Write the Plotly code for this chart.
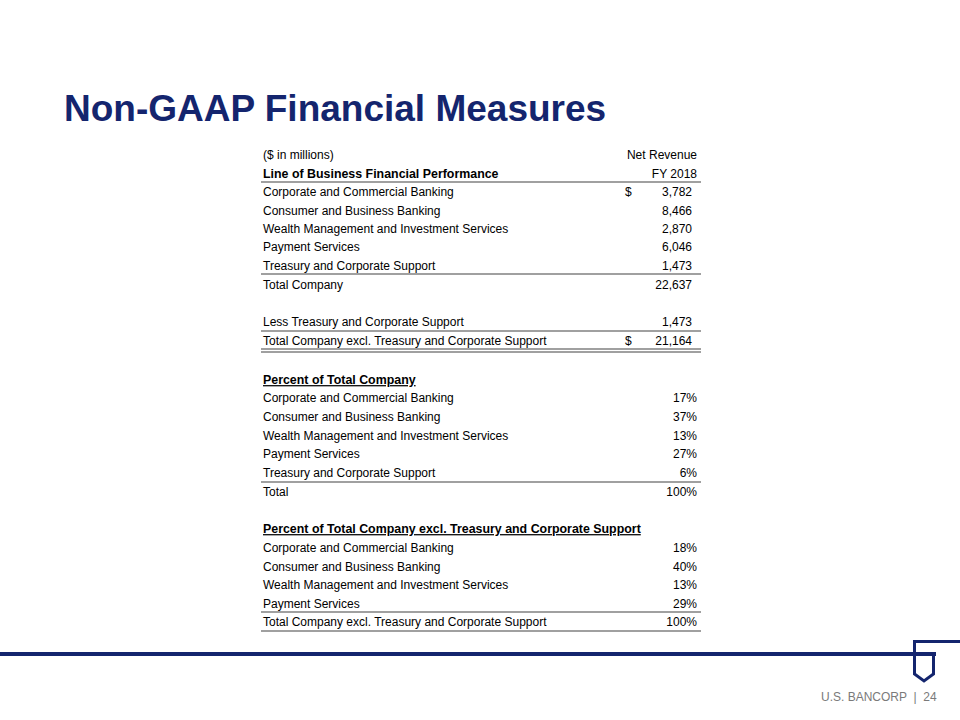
import plotly.graph_objects as go

# ---------------------------------------------------------------- data
lob_names = ["Corporate and Commercial Banking", "Consumer and Business Banking",
             "Wealth Management and Investment Services", "Payment Services",
             "Treasury and Corporate Support"]
net_revenue = [3782, 8466, 2870, 6046, 1473]
total_company = 22637
less_treasury = 1473
total_excl_treasury = 21164

pct_of_total = [17, 37, 13, 27, 6]
pct_of_total_sum = 100
pct_excl_names = lob_names[:4]
pct_excl_treasury = [18, 40, 13, 29]
pct_excl_sum = 100

NAVY = "#14256e"
RULE = "#808080"
FONT = "Liberation Sans, Arial, sans-serif"
SIZE = 12
BOLD_SIZE = 12.4
DY = 2  # text baseline nudge

# ---------------------------------------------------------------- rows
# (y, label, value text, dollar sign?, right edge of value)
rows = []
rows.append((154, "($ in millions)", "Net Revenue", False, 697))
rows.append((173, "<b>Line of Business Financial Performance</b>", "FY 2018", False, 697))
for y, name, v, d in zip([191, 210, 228, 246, 265], lob_names, net_revenue,
                         [True, False, False, False, False]):
    rows.append((y, name, f"{v:,}", d, 692))
rows.append((284, "Total Company", f"{total_company:,}", False, 692))
rows.append((321, "Less Treasury and Corporate Support", f"{less_treasury:,}", False, 692))
rows.append((340, "Total Company excl. Treasury and Corporate Support",
             f"{total_excl_treasury:,}", True, 692))

rows.append((379, "<b><u>Percent of Total Company</u></b>", "", False, 697))
for y, name, v in zip([397, 416, 435, 453, 472], lob_names, pct_of_total):
    rows.append((y, name, f"{v}%", False, 697))
rows.append((491, "Total", f"{pct_of_total_sum}%", False, 697))

rows.append((528, "<b><u>Percent of Total Company excl. Treasury and Corporate Support</u></b>",
             "", False, 697))
for y, name, v in zip([547, 566, 584, 603], pct_excl_names, pct_excl_treasury):
    rows.append((y, name, f"{v}%", False, 697))
rows.append((621, "Total Company excl. Treasury and Corporate Support", f"{pct_excl_sum}%",
             False, 697))

fig = go.Figure()
tf = dict(family=FONT, size=SIZE, color="black")

# labels (left aligned); bold headers come out a touch wider in the original
fig.add_trace(go.Scatter(
    x=[263] * len(rows), y=[r[0] + DY for r in rows], text=[r[1] for r in rows],
    mode="text", textposition="middle right",
    textfont=dict(family=FONT, color="black",
                  size=[BOLD_SIZE if r[1].startswith("<b>") else SIZE for r in rows]),
    hoverinfo="skip"))

# values (right aligned)
for anchor in (692, 697):
    sel = [r for r in rows if r[4] == anchor and r[2]]
    fig.add_trace(go.Scatter(
        x=[anchor] * len(sel), y=[r[0] + DY for r in sel], text=[r[2] for r in sel],
        mode="text", textposition="middle left", textfont=tf, hoverinfo="skip"))

# dollar signs
dol = [r for r in rows if r[3]]
fig.add_trace(go.Scatter(
    x=[625] * len(dol), y=[r[0] + DY for r in dol], text=["$"] * len(dol),
    mode="text", textposition="middle right", textfont=tf, hoverinfo="skip"))

# table rules
for y in [182, 274, 331, 349, 352, 482, 612, 631]:
    fig.add_shape(type="line", x0=261, x1=701, y0=y, y1=y, xref="x", yref="y",
                  line=dict(color=RULE, width=1.6))

# footer line and logo
fig.add_shape(type="line", x0=0, x1=936, y0=654, y1=654, xref="x", yref="y",
              line=dict(color=NAVY, width=4))
fig.add_shape(type="path", xref="x", yref="y",
              path="M 960 641.5 L 914.5 641.5 L 914.5 674 L 924 681 L 933.5 674 L 933.5 654",
              line=dict(color=NAVY, width=3))

# title
fig.add_annotation(x=62, y=108, xref="x", yref="y", text="<b>Non-GAAP Financial Measures</b>",
                   showarrow=False, xanchor="left", yanchor="middle",
                   font=dict(family=FONT, size=37, color=NAVY))
fig.add_annotation(x=939, y=697, xref="x", yref="y", text="U.S. BANCORP  |  24",
                   showarrow=False, xanchor="right", yanchor="middle",
                   font=dict(family=FONT, size=12, color="#7a7a7a"))

fig.update_xaxes(range=[0, 960], visible=False, fixedrange=True)
fig.update_yaxes(range=[720, 0], visible=False, fixedrange=True)
fig.update_layout(width=960, height=720, margin=dict(l=0, r=0, t=0, b=0),
                  showlegend=False, plot_bgcolor="white", paper_bgcolor="white")

# the page body has an 8px default margin; drop it so the slide sits at 0,0
fig.write_html("out.html", config={"displayModeBar": False},
               post_script="document.body.style.margin='0px';")
